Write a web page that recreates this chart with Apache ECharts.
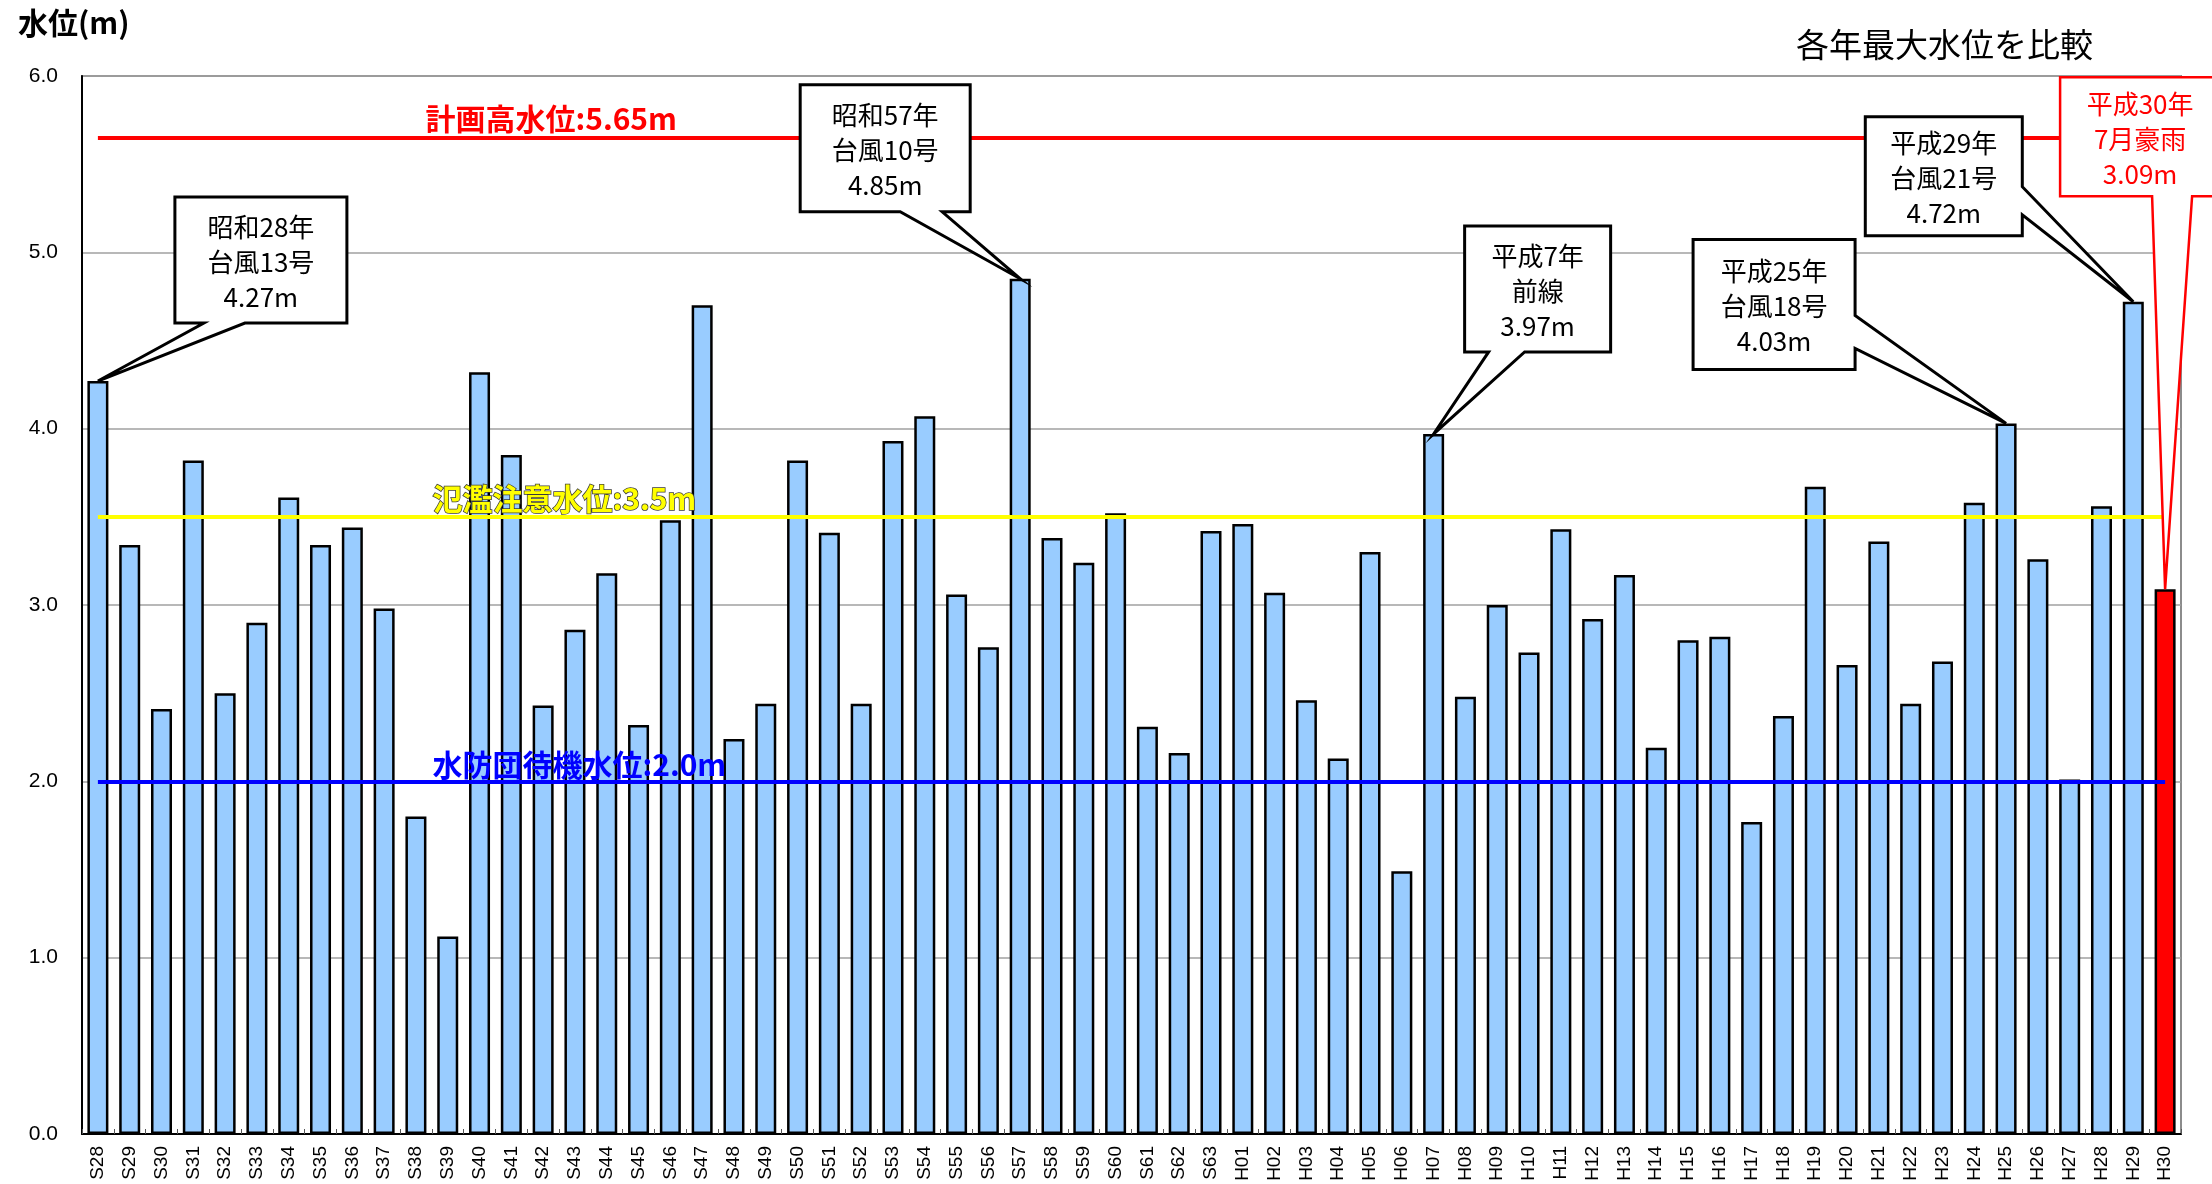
<!DOCTYPE html>
<html>
<head>
<meta charset="utf-8">
<title>各年最大水位を比較</title>
<script src="https://cdn.jsdelivr.net/npm/echarts@6/dist/echarts.min.js"></script>
<style>
  html, body { margin: 0; padding: 0; background: #fff; }
  #chart { width: 2212px; height: 1184px; }
</style>
</head>
<body>
<div id="chart"></div>
<script>
// 年（昭和/平成）
const years = [
  'S28', 'S29', 'S30', 'S31', 'S32', 'S33', 'S34', 'S35', 'S36', 'S37', 'S38', 'S39',
  'S40', 'S41', 'S42', 'S43', 'S44', 'S45', 'S46', 'S47', 'S48', 'S49', 'S50', 'S51',
  'S52', 'S53', 'S54', 'S55', 'S56', 'S57', 'S58', 'S59', 'S60', 'S61', 'S62', 'S63',
  'H01', 'H02', 'H03', 'H04', 'H05', 'H06', 'H07', 'H08', 'H09', 'H10', 'H11', 'H12',
  'H13', 'H14', 'H15', 'H16', 'H17', 'H18', 'H19', 'H20', 'H21', 'H22', 'H23', 'H24',
  'H25', 'H26', 'H27', 'H28', 'H29', 'H30'
]
// 各年最大水位 (m)
const maxLevels = [
  4.27, 3.34, 2.41, 3.82, 2.50, 2.90, 3.61, 3.34, 3.44, 2.98, 1.80, 1.12,
  4.32, 3.85, 2.43, 2.86, 3.18, 2.32, 3.48, 4.70, 2.24, 2.44, 3.82, 3.41,
  2.44, 3.93, 4.07, 3.06, 2.76, 4.85, 3.38, 3.24, 3.52, 2.31, 2.16, 3.42,
  3.46, 3.07, 2.46, 2.13, 3.30, 1.49, 3.97, 2.48, 3.00, 2.73, 3.43, 2.92,
  3.17, 2.19, 2.80, 2.82, 1.77, 2.37, 3.67, 2.66, 3.36, 2.44, 2.68, 3.58,
  4.03, 3.26, 2.01, 3.56, 4.72, 3.09
]
const highlightYear = 'H30'

// 基準水位
const levelNames = ['計画高水位', '氾濫注意水位', '水防団待機水位']
const levelValues = [5.65, 3.5, 2.0]
const levelLabels = ['5.65m', '3.5m', '2.0m']

// 吹き出し
const calloutYears = ['S28', 'S57', 'H07', 'H25', 'H29', 'H30']
const calloutEras = ['昭和28年', '昭和57年', '平成7年', '平成25年', '平成29年', '平成30年']
const calloutCauses = ['台風13号', '台風10号', '前線', '台風18号', '台風21号', '7月豪雨']

const yTicks = [0, 1, 2, 3, 4, 5, 6]

// 吹き出しの配置（棒の先端からの相対位置 px）
const calloutBoxes = [
  { dx: 77, dy: -184, w: 172, h: 126, side: 'bottom', a: 106, b: 147 },
  { dx: -220, dy: -194, w: 170, h: 127, side: 'bottom', a: -120, b: -78 },
  { dx: 31, dy: -208, w: 146, h: 126, side: 'bottom', a: 55, b: 91 },
  { dx: -313, dy: -184, w: 162, h: 130, side: 'right', a: -108, b: -75 },
  { dx: -268, dy: -185, w: 157, h: 119, side: 'right', a: -115, b: -87 },
  { dx: -105, dy: -512, w: 160, h: 119, side: 'bottom', a: -13, b: 27 }
]
const levelStyles = [
  { color: '#FF0000', width: 4, textColor: '#FF0000', border: 0, ox: 10, oy: -4 },
  { color: '#FFFF00', width: 4, textColor: '#FFFF00', border: 1.5, ox: 17, oy: -3 },
  { color: '#0000FF', width: 4, textColor: '#0000FF', border: 0, ox: 17, oy: -1 }
]

const jpFont = '"Noto Sans CJK JP", "Noto Sans", sans-serif'
const last = years.length - 1

const barData = maxLevels.map((v, i) => years[i] === highlightYear
  ? { value: v, itemStyle: { color: '#FF0000' } }
  : v)

const levelLines = levelValues.map((v, i) => [
  { coord: [years[0], v], lineStyle: { color: levelStyles[i].color, width: levelStyles[i].width, type: 'solid' } },
  { coord: [years[last], v] }
])

const levelTexts = levelValues.map((v, i) => ({
  coord: ['S38', v],
  symbol: 'rect',
  symbolSize: 1,
  itemStyle: { color: 'rgba(0,0,0,0)' },
  label: {
    show: true,
    formatter: levelNames[i] + ':' + levelLabels[i],
    position: [levelStyles[i].ox, levelStyles[i].oy],
    align: 'left',
    verticalAlign: 'bottom',
    color: levelStyles[i].textColor,
    fontFamily: jpFont,
    fontWeight: 'bold',
    fontSize: 30,
    textBorderColor: levelStyles[i].border ? '#3a3a3a' : 'transparent',
    textBorderWidth: levelStyles[i].border
  }
}))

const calloutData = calloutYears.map(y => {
  const idx = years.indexOf(y)
  return [idx, maxLevels[idx]]
})

function renderCallout(params, api) {
  const tip = api.coord([api.value(0), api.value(1)])
  const box = calloutBoxes[params.dataIndex]
  const isRed = calloutYears[params.dataIndex] === highlightYear
  const x0 = tip[0] + box.dx
  const y0 = tip[1] + box.dy
  const x1 = x0 + box.w
  const y1 = y0 + box.h
  let points
  if (box.side === 'bottom') {
    points = [[x0, y0], [x1, y0], [x1, y1], [tip[0] + box.b, y1], tip, [tip[0] + box.a, y1], [x0, y1]]
  } else {
    points = [[x0, y0], [x1, y0], [x1, tip[1] + box.a], tip, [x1, tip[1] + box.b], [x1, y1], [x0, y1]]
  }
  const idx = years.indexOf(calloutYears[params.dataIndex])
  const text = calloutEras[params.dataIndex] + '\n' + calloutCauses[params.dataIndex] + '\n' +
    maxLevels[idx].toFixed(2) + 'm'
  return {
    type: 'group',
    children: [
      {
        type: 'polygon',
        shape: { points: points },
        style: { fill: '#fff', stroke: isRed ? '#FF0000' : '#000', lineWidth: isRed ? 2.5 : 3, lineJoin: 'miter' }
      },
      {
        type: 'text',
        style: {
          text: text,
          x: (x0 + x1) / 2,
          y: (y0 + y1) / 2 + 2,
          align: 'center',
          verticalAlign: 'middle',
          fill: isRed ? '#FF0000' : '#000',
          fontFamily: jpFont,
          fontSize: 26,
          lineHeight: 35
        }
      }
    ]
  }
}

const chart = echarts.init(document.getElementById('chart'))
chart.setOption({
  animation: false,
  backgroundColor: '#fff',
  title: [
    {
      text: '水位(m)',
      left: 18,
      top: 8,
      padding: 0,
      textStyle: { fontFamily: jpFont, fontSize: 30, fontWeight: 'bold', color: '#000' }
    },
    {
      text: '各年最大水位を比較',
      left: 1796,
      top: 28,
      padding: 0,
      textStyle: { fontFamily: jpFont, fontSize: 33, fontWeight: 'normal', color: '#000' }
    }
  ],
  grid: {
    left: 82,
    right: 31,
    top: 76,
    bottom: 50,
    show: true,
    borderColor: '#8c8c8c',
    borderWidth: 2,
    containLabel: false
  },
  xAxis: {
    type: 'category',
    data: years,
    axisLine: { lineStyle: { color: '#000', width: 2 } },
    axisTick: { show: true, inside: true, length: 5, lineStyle: { color: '#555', width: 1 } },
    axisLabel: {
      interval: 0,
      rotate: 90,
      margin: 12,
      color: '#000',
      fontFamily: '"Liberation Sans", Arial, sans-serif',
      fontSize: 19
    },
    splitLine: { show: false }
  },
  yAxis: {
    type: 'value',
    min: yTicks[0],
    max: yTicks[yTicks.length - 1],
    interval: 1,
    axisLine: { show: true, lineStyle: { color: '#000', width: 2 } },
    axisTick: { show: false },
    axisLabel: {
      margin: 24,
      color: '#000',
      fontFamily: '"Liberation Sans", Arial, sans-serif',
      fontSize: 21,
      formatter: v => v.toFixed(1)
    },
    splitLine: { lineStyle: { color: '#a0a0a0', width: 1.5 } }
  },
  series: [
    {
      name: '最大水位',
      type: 'bar',
      data: barData,
      barWidth: 21,
      itemStyle: { color: '#99CCFF', borderColor: '#000', borderWidth: 2.5 },
      markLine: {
        silent: true,
        symbol: 'none',
        label: { show: false },
        z: 5,
        data: levelLines
      },
      markPoint: {
        silent: true,
        z: 6,
        data: levelTexts
      }
    },
    {
      name: '吹き出し',
      type: 'custom',
      z: 10,
      clip: false,
      silent: true,
      renderItem: renderCallout,
      data: calloutData
    }
  ]
})
</script>
</body>
</html>
